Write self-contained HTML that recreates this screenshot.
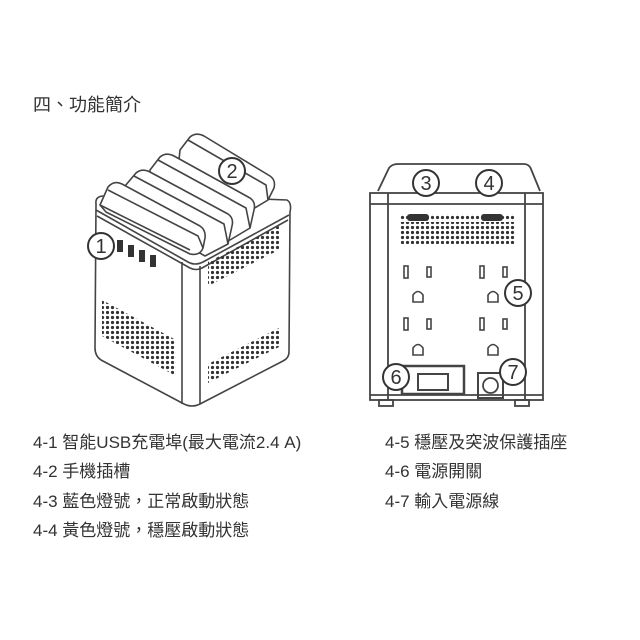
<!DOCTYPE html>
<html><head><meta charset="utf-8"><style>
html,body{margin:0;padding:0;background:#fff;}
svg{display:block}
text{font-family:"Liberation Sans","Noto Sans CJK TC",sans-serif;fill:#333;}
</style></head><body>
<svg width="640" height="640" viewBox="0 0 640 640" xmlns="http://www.w3.org/2000/svg">
<defs>
<pattern id="dots" width="5" height="5" patternUnits="userSpaceOnUse"><circle cx="2.5" cy="2.5" r="1.6" fill="#333"/></pattern>
</defs>
<text x="33" y="111" font-size="18">四、功能簡介</text>

<!-- left cube -->
<g fill="none" stroke="#444" stroke-width="1.6" stroke-linejoin="round">
<path d="M96,204 Q95,196 104,196 L186,196 L287,200 Q292,203 290,212 L289,352 Q289,358 283,361 L200,404 Q192,408 184,404 L101,360 Q95,356 95,348 Z" fill="#fff"/>
<path d="M96,210 L188,262 Q195,266 203,262 L289,215"/>
<path d="M97,216 L190,268 Q196,271 202,268 L288,220"/>
<path d="M182,262 L182,404"/><path d="M200,266 L200,404"/>
<!-- back tall ridge -->
<path d="M180,150 L190,137 Q196,132 204,136 L270,176 Q276,180 274,188 L268,200 L248,212 L178,170 Z" fill="#fff"/>
<path d="M188,140 L266,185 L268,200"/>
<!-- ridge 3 -->
<path d="M150,170 L160,157 Q166,152 174,156 L250,198 Q256,202 254,210 L250,228 L230,240 L150,195 Z" fill="#fff"/>
<path d="M158,160 L246,208 L250,228"/>
<!-- ridge 2 -->
<path d="M125,186 L136,173 Q142,168 150,172 L228,214 Q234,218 232,226 L228,244 L205,256 L125,210 Z" fill="#fff"/>
<path d="M134,176 L224,224 L228,244"/>
<!-- ridge 1 -->
<path d="M100,205 L108,187 Q114,180 122,184 L200,226 Q206,230 205,238 L203,248 Q200,256 190,254 L106,212 Z" fill="#fff"/>
<path d="M108,190 L198,236 L203,248"/>
<path d="M100,205 L190,250"/>
</g>
<g fill="#333"><rect x="117" y="240" width="6" height="12"/><rect x="128" y="245" width="6" height="12"/><rect x="139" y="250" width="6" height="12"/><rect x="150" y="255" width="6" height="12"/></g>
<polygon points="102,300 176,340 176,376 102,336" fill="url(#dots)"/>
<polygon points="208,262 279,226 279,250 208,286" fill="url(#dots)"/>
<polygon points="208,364 279,328 279,347 208,383" fill="url(#dots)"/>

<!-- right device -->
<g fill="none" stroke="#444" stroke-width="1.8">
<path d="M378,191 L389,168 Q392,164 398,164 L524,164 Q529,164 531,169 L540,191" fill="#fff"/>
<rect x="370" y="193" width="173" height="207" fill="#fff"/>
<path d="M388,193 L388,400 M525,193 L525,400 M370,204 L543,204"/>
<path d="M370,395 L543,395"/>
<rect x="379" y="400" width="14" height="6"/><rect x="515" y="400" width="14" height="6"/>
<rect x="402" y="366" width="62" height="28" stroke-width="2.5"/>
<rect x="418" y="374" width="30" height="16" stroke-width="2"/>
<rect x="478" y="373" width="25" height="25" stroke-width="2"/>
<circle cx="490.5" cy="385.5" r="7.5"/>
</g>
<rect x="400" y="222" width="115" height="22" fill="url(#dots)"/>
<rect x="400" y="214" width="115" height="7" fill="url(#dots)"/>
<rect x="407" y="214" width="22" height="7" rx="3" fill="#333"/>
<rect x="481" y="214" width="22" height="7" rx="3" fill="#333"/>
<g fill="#fff" stroke="#444" stroke-width="1.6">
<rect x="404" y="266" width="4" height="12"/><rect x="427" y="267" width="4" height="10"/>
<rect x="480" y="266" width="4" height="12"/><rect x="503" y="267" width="4" height="10"/>
<rect x="404" y="318" width="4" height="12"/><rect x="427" y="319" width="4" height="10"/>
<rect x="480" y="318" width="4" height="12"/><rect x="503" y="319" width="4" height="10"/>
<path d="M413,302 L413,295 Q418,288 423,295 L423,302 Z"/><path d="M488,302 L488,295 Q493,288 498,295 L498,302 Z"/>
<path d="M413,355 L413,348 Q418,341 423,348 L423,355 Z"/><path d="M488,355 L488,348 Q493,341 498,348 L498,355 Z"/>
</g>

<!-- badges -->
<g font-size="20" text-anchor="middle">
<g fill="#fff" stroke="#333" stroke-width="2">
<circle cx="101" cy="246" r="13"/><circle cx="232" cy="171" r="13"/>
<circle cx="426" cy="183" r="13"/><circle cx="489" cy="183" r="13"/>
<circle cx="518" cy="293" r="13"/><circle cx="396" cy="377" r="13"/><circle cx="513" cy="372" r="13"/>
</g>
<text x="101" y="253">1</text><text x="232" y="178">2</text>
<text x="426" y="190">3</text><text x="489" y="190">4</text>
<text x="518" y="300">5</text><text x="396" y="384">6</text><text x="513" y="379">7</text>
</g>

<g font-size="17">
<text x="33" y="448">4-1 智能USB充電埠(最大電流2.4 A)</text>
<text x="33" y="477">4-2 手機插槽</text>
<text x="33" y="507">4-3 藍色燈號，正常啟動狀態</text>
<text x="33" y="536">4-4 黃色燈號，穩壓啟動狀態</text>
<text x="385" y="448">4-5 穩壓及突波保護插座</text>
<text x="385" y="477">4-6 電源開關</text>
<text x="385" y="507">4-7 輸入電源線</text>
</g>
</svg>
</body></html>
